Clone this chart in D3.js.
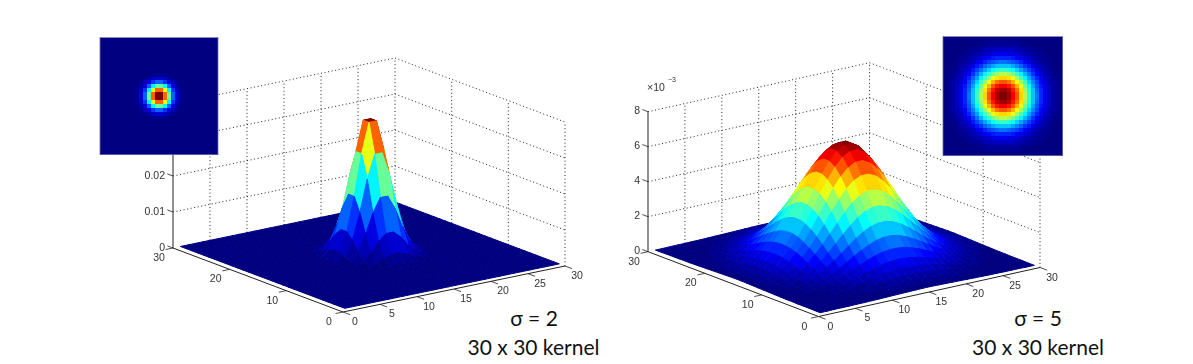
<!DOCTYPE html>
<html>
<head>
<meta charset="utf-8">
<script src="https://cdn.jsdelivr.net/npm/d3@7"></script>
<style>
  body { margin: 0; background: #fff; }
  svg { display: block; }
  .tick { font-family: "Liberation Sans", sans-serif; font-size: 10.5px; fill: #333; }
  .note { font-family: Lato, "Open Sans", sans-serif; font-size: 21px; fill: #111; text-anchor: middle; }
</style>
</head>
<body>
<div id="graph"></div>
<script>
const width = 1193;
const height = 364;

// one quadrant of each kernel, row/col = cells away from the centre
const kernelSigma2 = [
  [374,291,177,83,31,9,2,0,0,0,0,0,0,0,0],
  [291,227,138,65,24,7,2,0,0,0,0,0,0,0,0],
  [177,138,83,39,15,4,1,0,0,0,0,0,0,0,0],
  [83,65,39,19,7,2,0,0,0,0,0,0,0,0,0],
  [31,24,15,7,3,1,0,0,0,0,0,0,0,0,0],
  [9,7,4,2,1,0,0,0,0,0,0,0,0,0,0],
  [2,2,1,0,0,0,0,0,0,0,0,0,0,0,0],
  [0,0,0,0,0,0,0,0,0,0,0,0,0,0,0],
  [0,0,0,0,0,0,0,0,0,0,0,0,0,0,0],
  [0,0,0,0,0,0,0,0,0,0,0,0,0,0,0],
  [0,0,0,0,0,0,0,0,0,0,0,0,0,0,0],
  [0,0,0,0,0,0,0,0,0,0,0,0,0,0,0],
  [0,0,0,0,0,0,0,0,0,0,0,0,0,0,0],
  [0,0,0,0,0,0,0,0,0,0,0,0,0,0,0],
  [0,0,0,0,0,0,0,0,0,0,0,0,0,0,0]
];
const kernelSigma5 = [
  [655,630,581,516,439,360,283,214,155,108,73,47,29,17,10],
  [630,605,558,496,422,345,272,206,150,104,70,45,28,17,9],
  [581,558,515,458,390,319,251,189,138,96,64,42,26,16,8],
  [516,496,458,406,345,283,223,168,123,85,57,36,23,14,7],
  [439,422,390,345,294,241,190,144,104,73,49,31,20,11,6],
  [360,345,319,283,241,198,155,118,85,59,40,26,16,9,5],
  [283,272,251,223,190,155,123,93,68,47,31,20,12,7,4],
  [214,206,189,168,144,118,93,70,51,35,24,16,9,5,3],
  [155,150,138,123,104,85,68,51,36,26,18,11,7,4,2],
  [108,104,96,85,73,59,47,35,26,18,11,7,5,3,2],
  [73,70,64,57,49,40,31,24,18,11,8,5,3,2,1],
  [47,45,42,36,31,26,20,16,11,7,5,3,2,1,1],
  [29,28,26,23,20,16,12,9,7,5,3,2,1,1,1],
  [17,17,16,14,11,9,7,5,4,3,2,1,1,1,0],
  [10,9,8,7,6,5,4,3,2,2,1,1,1,0,0]
];

const xTicks = [0, 5, 10, 15, 20, 25, 30];
const yTicks = [0, 10, 20, 30];
const zTicksLeft = [0, 0.01, 0.02, 0.03, 0.04];
const zLabelsLeft = ["0", "0.01", "0.02", "0.03", "0.04"];
const zTicksRight = [0, 2, 4, 6, 8];
const zLabelsRight = ["0", "2", "4", "6", "8"];

const jet = d3.scaleLinear()
              .domain([0, 0.125, 0.375, 0.625, 0.875, 1])
              .range(["#000080", "#0000ff", "#00ffff", "#ffff00", "#ff0000", "#800000"]);
const jet64 = t => jet(Math.min(63, Math.floor(t * 64)) / 63);

const svg = d3.select("#graph")
              .append("svg")
              .attr("width", width)
              .attr("height", height);

// the plots are soft screenshots in the original
svg.append("defs")
   .append("filter")
   .attr("id", "soft")
   .attr("filterUnits", "userSpaceOnUse")
   .attr("x", 0).attr("y", 0)
   .attr("width", width).attr("height", height)
   .append("feGaussianBlur")
   .attr("stdDeviation", 0.45);

// quadrant -> cell 1..30
function cell(quadrant, i, j) {
    return quadrant[Math.abs(i - 15.5) - 0.5][Math.abs(j - 15.5) - 0.5];
}

function drawPanel(p) {
    const g = svg.append("g").attr("filter", "url(#soft)");

    // plot axes are oblique, so each one is a pair of linear scales
    const xDx = d3.scaleLinear().domain([0, 30]).range([0, p.right[0] - p.front[0]]);
    const xDy = d3.scaleLinear().domain([0, 30]).range([0, p.right[1] - p.front[1]]);
    const yDx = d3.scaleLinear().domain([0, 30]).range([0, p.left[0] - p.front[0]]);
    const yDy = d3.scaleLinear().domain([0, 30]).range([0, p.left[1] - p.front[1]]);
    const zDy = d3.scaleLinear().domain([0, p.zTop]).range([0, -p.wall]);

    const project = (x, y, z) => [
        p.front[0] + xDx(x) + yDx(y),
        p.front[1] + xDy(x) + yDy(y) + zDy(z)
    ];
    const line = (a, b, color, w, dash) => g.append("line")
        .attr("x1", a[0]).attr("y1", a[1])
        .attr("x2", b[0]).attr("y2", b[1])
        .attr("stroke", color)
        .attr("stroke-width", w)
        .attr("stroke-dasharray", dash);

    // back walls
    const dots = "1 2.6";
    const gridColor = "#222";
    p.zTicks.forEach(z => {
        if (z === 0) return;
        line(project(0, 30, z), project(30, 30, z), gridColor, 1, dots);
        line(project(30, 30, z), project(30, 0, z), gridColor, 1, dots);
    });
    xTicks.forEach(x => {
        if (x > 0) line(project(x, 30, 0), project(x, 30, p.zTop), gridColor, 1, dots);
    });
    yTicks.forEach(y => {
        if (y < 30) line(project(30, y, 0), project(30, y, p.zTop), gridColor, 1, dots);
    });

    // surface: far faces first, each face takes the colour of its nearest vertex
    const faces = [];
    for (let i = 1; i < 30; i++) {
        for (let j = 1; j < 30; j++) {
            faces.push({i, j});
        }
    }
    faces.sort((a, b) => d3.descending(a.i + a.j, b.i + b.j));
    const peak = d3.max(p.kernel.flat());
    const faceColor = d => jet64(cell(p.kernel, d.i, d.j) / peak);
    const zAt = (i, j) => cell(p.kernel, i, j) * p.unit;

    g.append("g")
     .selectAll("polygon")
     .data(faces)
     .join("polygon")
     .attr("points", d => [
         project(d.i, d.j, zAt(d.i, d.j)),
         project(d.i + 1, d.j, zAt(d.i + 1, d.j)),
         project(d.i + 1, d.j + 1, zAt(d.i + 1, d.j + 1)),
         project(d.i, d.j + 1, zAt(d.i, d.j + 1))
     ].join(" "))
     .attr("fill", faceColor)
     .attr("stroke", faceColor)
     .attr("stroke-width", 1)
     .attr("stroke-linejoin", "round");

    // axes
    const axisColor = "#222";
    line(project(0, 30, 0), project(0, 0, 0), axisColor, 1);
    line(project(0, 0, 0), project(30, 0, 0), axisColor, 1);
    line(project(0, 30, 0), project(0, 30, p.zTop), "#555", 1.3);

    xTicks.forEach(x => {
        const a = project(x, 0, 0);
        line(a, project(x, -1.25, 0), axisColor, 0.8);
        g.append("text").attr("class", "tick")
         .attr("x", a[0] + 12).attr("y", a[1] + 13)
         .attr("text-anchor", "middle")
         .text(x);
    });
    yTicks.forEach(y => {
        const a = project(0, y, 0);
        line(a, project(-1, y, 0), axisColor, 0.8);
        g.append("text").attr("class", "tick")
         .attr("x", a[0] - 14).attr("y", a[1] + 13)
         .attr("text-anchor", "middle")
         .text(y);
    });
    p.zTicks.forEach((z, k) => {
        const a = project(0, 30, z);
        line(a, project(0, 31, z), axisColor, 0.8);
        g.append("text").attr("class", "tick")
         .attr("x", a[0] - 8).attr("y", a[1] + 2.5)
         .attr("text-anchor", "end")
         .text(p.zLabels[k]);
    });

    // the flat picture of the kernel pasted on top
    const cells = d3.range(1, 31);
    const bandX = d3.scaleBand().domain(cells).range([p.inset[0], p.inset[0] + p.inset[2]]);
    const bandY = d3.scaleBand().domain(cells).range([p.inset[1], p.inset[1] + p.inset[3]]);
    g.append("g")
     .attr("shape-rendering", "crispEdges")
     .selectAll("rect")
     .data(d3.cross(cells, cells))
     .join("rect")
     .attr("x", d => bandX(d[0]))
     .attr("y", d => bandY(d[1]))
     .attr("width", bandX.bandwidth())
     .attr("height", bandY.bandwidth())
     .attr("fill", d => jet64(cell(p.kernel, d[0], d[1]) / peak));
    g.append("rect")
     .attr("x", p.inset[0]).attr("y", p.inset[1])
     .attr("width", p.inset[2]).attr("height", p.inset[3])
     .attr("fill", "none")
     .attr("stroke", "#6f6fa8")
     .attr("stroke-width", 0.8);

    svg.append("text").attr("class", "note")
       .attr("x", p.noteX).attr("y", 326)
       .text(p.sigma);
    svg.append("text").attr("class", "note")
       .attr("x", p.noteX2).attr("y", 354.5)
       .text("30 x 30 kernel");
}

drawPanel({
    kernel: kernelSigma2, unit: 1e-4,
    front: [343, 312], left: [173, 248], right: [565, 266],
    zTop: 0.04, wall: 144,
    zTicks: zTicksLeft, zLabels: zLabelsLeft,
    inset: [100, 37.5, 118, 117],
    sigma: "σ = 2", noteX: 534, noteX2: 533.5
});

drawPanel({
    kernel: kernelSigma5, unit: 0.01,
    front: [818.5, 316.5], left: [648, 251.7], right: [1040, 267.5],
    zTop: 8, wall: 140,
    zTicks: zTicksRight, zLabels: zLabelsRight,
    inset: [943, 36.5, 119.5, 119],
    sigma: "σ = 5", noteX: 1038, noteX2: 1038
});

// exponent above the right z axis
const exponent = svg.append("g").attr("filter", "url(#soft)");
exponent.append("text").attr("class", "tick")
        .attr("x", 647).attr("y", 91)
        .text("×10");
exponent.append("text").attr("class", "tick")
        .attr("x", 668).attr("y", 81.5)
        .style("font-size", "7px")
        .text("−3");
</script>
</body>
</html>
